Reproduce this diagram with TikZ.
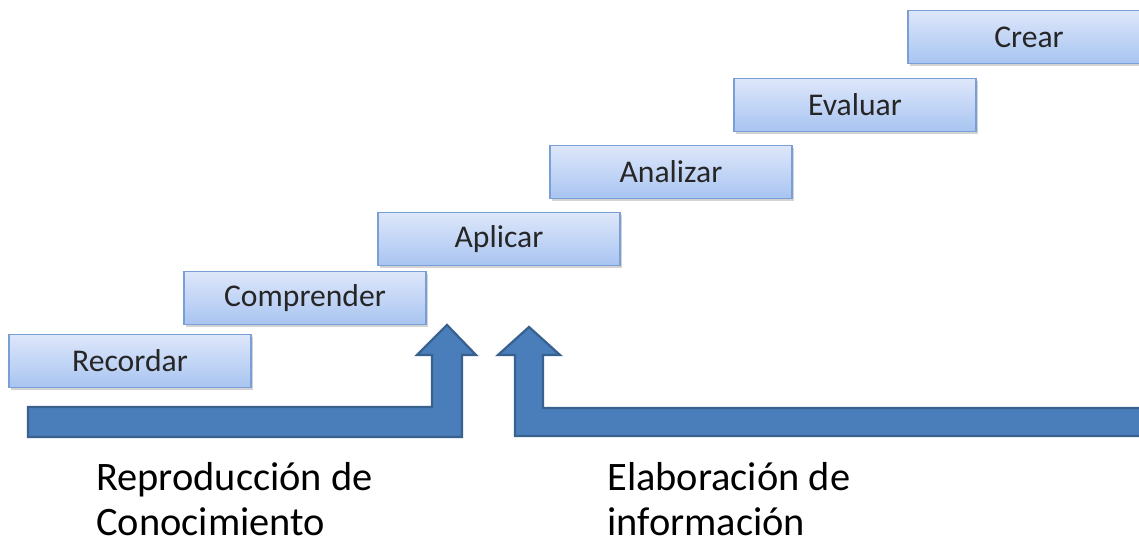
\documentclass[tikz,border=0pt]{standalone}
\usepackage{fontspec}
\setmainfont{Carlito}
\usetikzlibrary{shadows}
\usepackage{xcolor}
\definecolor{boxtop}{HTML}{DDE7FA}
\definecolor{boxbottom}{HTML}{A8C4F1}
\definecolor{boxborder}{HTML}{7A9ED6}
\definecolor{arrowfill}{HTML}{4A7EBB}
\definecolor{arrowborder}{HTML}{38618F}

\begin{document}
\begin{tikzpicture}[
    x=0.02cm, y=-0.02cm,
    nivel/.style={draw=boxborder, line width=0.9pt, rectangle, minimum width=4.84cm, minimum height=1.06cm,
        top color=boxtop, bottom color=boxbottom, text=black!85, font=\fontsize{18}{20}\selectfont,
        drop shadow={shadow xshift=1.2pt, shadow yshift=-1.4pt, opacity=0.35}},
    flecha/.style={fill=arrowfill, draw=arrowborder, line width=1.3pt, line join=miter},
    etiqueta/.style={anchor=base west, align=left, inner sep=0pt, font=\fontsize{23}{25.5}\selectfont}
]

\useasboundingbox (0,0) rectangle (1139,542);
\clip (0,0) rectangle (1139,542);

% Niveles (escalera)
\node[nivel] (recordar) at (130,361) {Recordar};
\node[nivel] (comprender) at (305,298) {Comprender};
\node[nivel] (aplicar) at (499,239) {Aplicar};
\node[nivel] (analizar) at (671,172) {Analizar};
\node[nivel] (evaluar) at (855,105) {Evaluar};
\node[nivel] (crear) at (1029,37) {Crear};

% Flechas de bloque
\draw[flecha] (28,407) -- (432,407) -- (432,355) -- (417,355) -- (447,325)
    -- (476,355) -- (462,355) -- (462,437) -- (28,437) -- cycle;
\draw[flecha] (1160,408) -- (543,408) -- (543,355) -- (560,355) -- (529,327)
    -- (498,355) -- (515,355) -- (515,436) -- (1160,436) -- cycle;

% Textos inferiores (base = ultima linea)
\node[etiqueta] (reproduccion) at (96,535) {Reproducción de\\Conocimiento};
\node[etiqueta] (elaboracion) at (607,535) {Elaboración de\\información};

\end{tikzpicture}
\end{document}
